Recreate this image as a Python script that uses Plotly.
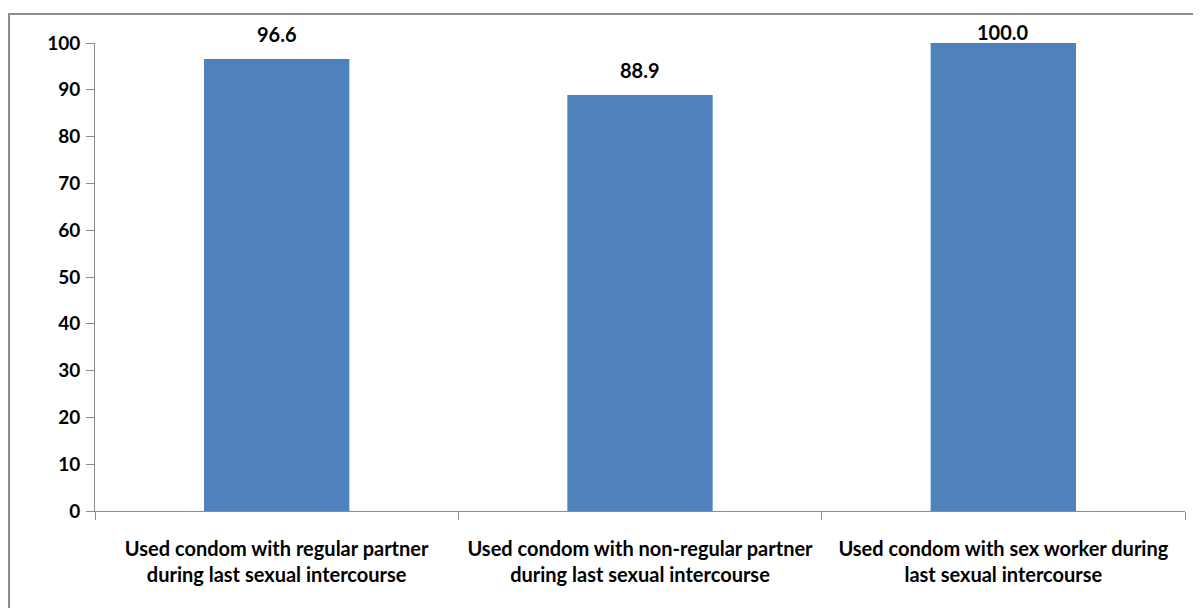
import plotly.graph_objects as go

categories = [
    "Used condom with regular partner<br>during last sexual intercourse",
    "Used condom with non-regular partner<br>during last sexual intercourse",
    "Used condom with sex worker during<br>last sexual intercourse",
]
values = [96.6, 88.9, 100.0]
y_ticks = [0, 10, 20, 30, 40, 50, 60, 70, 80, 90, 100]

BAR = "#4F81BD"
AXIS = "#8C8C8C"
FONT = "Lato"

fig = go.Figure()
fig.add_trace(go.Bar(
    x=categories, y=values, marker=dict(color=BAR, line=dict(width=0)),
    width=0.4, cliponaxis=False, showlegend=False,
))

for c, v in zip(categories, values):
    fig.add_annotation(
        x=c, y=v, text=f"{v:.1f}", showarrow=False, yanchor="bottom",
        yshift=(11 if v < 99 else -3),
        font=dict(family=FONT, size=20, color="black", weight="bold"),
    )

fig.update_layout(
    width=1201, height=608,
    margin=dict(l=87, r=24, t=35, b=105),
    paper_bgcolor="white", plot_bgcolor="white",
    xaxis=dict(
        type="category", showline=True, linecolor=AXIS, linewidth=1,
        ticks="outside", tickson="boundaries", ticklen=8, tickcolor=AXIS,
        showgrid=False, ticklabelstandoff=20,
        tickfont=dict(family=FONT, size=20, color="black", weight="bold"),
    ),
    yaxis=dict(
        range=[0, 100], tickvals=y_ticks, showline=True, linecolor=AXIS, linewidth=1,
        ticks="outside", ticklen=8, tickcolor=AXIS, showgrid=False, zeroline=False,
        ticklabelstandoff=2,
        tickfont=dict(family=FONT, size=19, color="black", weight="bold"),
    ),
    shapes=[dict(
        type="rect", xref="paper", yref="paper",
        x0=-0.0789, x1=1.03, y0=-0.25, y1=1.062,
        line=dict(color=AXIS, width=2), fillcolor="rgba(0,0,0,0)", layer="above",
    )],
)

fig.write_html("out.html")
